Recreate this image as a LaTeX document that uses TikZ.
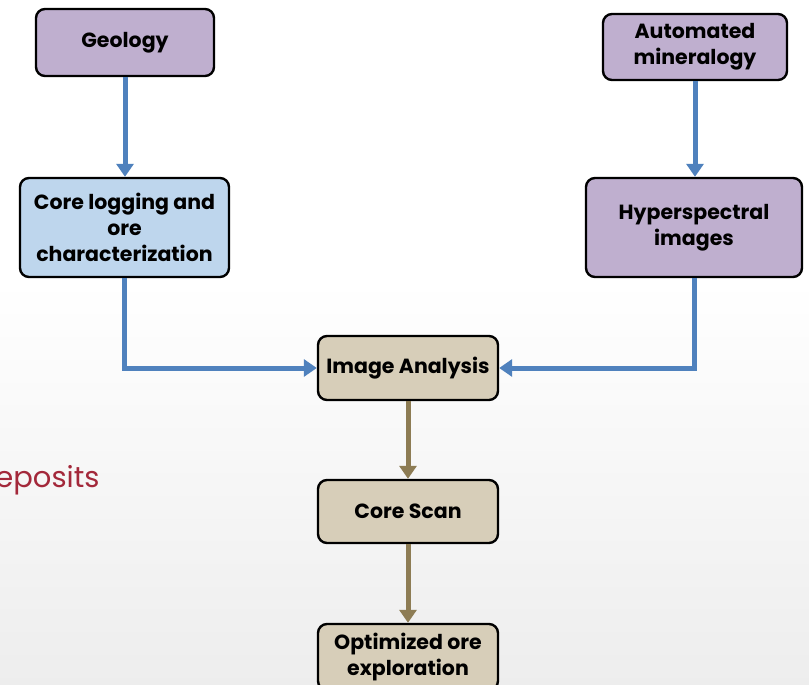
\documentclass[tikz,border=0pt]{standalone}
\usepackage{fontspec}
\setmainfont{Poppins}
\usetikzlibrary{arrows.meta,positioning}

\definecolor{lilac}{RGB}{191,175,207}
\definecolor{paleblue}{RGB}{190,214,237}
\definecolor{sand}{RGB}{215,206,185}
\definecolor{flowblue}{RGB}{79,129,189}
\definecolor{flowbrown}{RGB}{141,124,84}
\definecolor{slidered}{RGB}{163,40,58}

\tikzset{
  box/.style={draw=black, line width=2.4pt, rounded corners=9pt, align=center,
    font=\fontsize{20.5}{26}\selectfont\bfseries, inner sep=0pt},
  bluearrow/.style={draw=flowblue, line width=5pt, -{Triangle[length=13pt,width=17pt]}},
  brownarrow/.style={draw=flowbrown, line width=5pt, -{Triangle[length=13pt,width=17pt]}}
}

\begin{document}
\begin{tikzpicture}[x=1pt, y=-1pt]
    % background of the slide
    \fill[white] (0,0) rectangle (809,685);
    \shade[top color=white, bottom color=black!7] (0,280) rectangle (809,685);
    \useasboundingbox (0,0) rectangle (809,685);

    \node[anchor=base east, text=slidered, font=\fontsize{29}{32}\selectfont] (word) at (103,487) {eposits};

    \node[box, fill=lilac, minimum width=178pt, minimum height=67pt] (geo) at (125,42.5) {Geology};
    \node[box, fill=lilac, minimum width=184pt, minimum height=66pt] (automin) at (695,47) {Automated\\mineralogy};
    \node[box, fill=paleblue, minimum width=209pt, minimum height=99pt] (corelog) at (124.5,227.5) {Core logging and\\ore\\characterization};
    \node[box, fill=lilac, minimum width=216pt, minimum height=99pt] (hyper) at (694,227.5) {Hyperspectral\\images};
    \node[box, fill=sand, minimum width=180pt, minimum height=64pt] (imgan) at (408,368) {Image Analysis};
    \node[box, fill=sand, minimum width=180pt, minimum height=63pt] (corescan) at (408,511.5) {Core Scan};
    \node[box, fill=sand, minimum width=180pt, minimum height=66pt] (optim) at (408,657) {Optimized ore\\exploration};

    \draw[bluearrow] (geo.south) -- (geo.south |- corelog.north);
    \draw[bluearrow] (automin.south) -- (automin.south |- hyper.north);
    \draw[bluearrow] (corelog.south) |- (imgan.west);
    \draw[bluearrow] (hyper.south) |- (imgan.east);
    \draw[brownarrow] (imgan.south) -- (corescan.north);
    \draw[brownarrow] (corescan.south) -- (optim.north);
\end{tikzpicture}
\end{document}
